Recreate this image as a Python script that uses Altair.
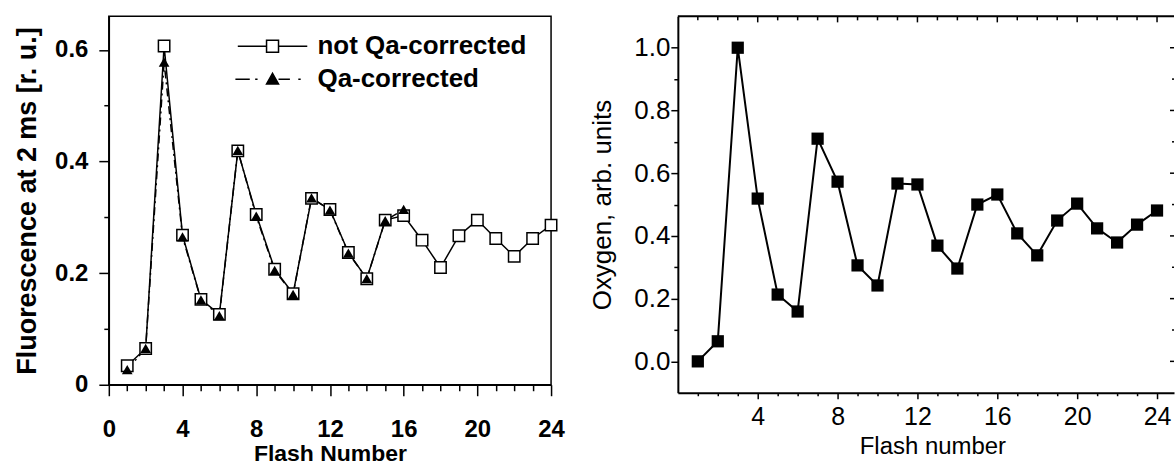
import altair as alt
import pandas as pd

# ---- data -------------------------------------------------------------
flash = list(range(1, 25))

# chlorophyll fluorescence 2 ms after each flash
fluor_not_qa = [0.034, 0.065, 0.607, 0.268, 0.153, 0.126, 0.419, 0.305,
                0.207, 0.163, 0.334, 0.314, 0.237, 0.190, 0.295, 0.303,
                0.259, 0.210, 0.267, 0.295, 0.262, 0.230, 0.262, 0.286]
fluor_qa = [0.027, 0.065, 0.578, 0.265, 0.152, 0.124, 0.420, 0.302,
            0.205, 0.162, 0.335, 0.313, 0.236, 0.190, 0.294, 0.314]

# flash-induced oxygen yield
oxygen = [0.000, 0.064, 1.000, 0.519, 0.213, 0.159, 0.710, 0.573,
          0.306, 0.242, 0.567, 0.564, 0.369, 0.296, 0.500, 0.532,
          0.408, 0.338, 0.449, 0.503, 0.424, 0.379, 0.436, 0.481]

series_names = ["not Qa-corrected", "Qa-corrected"]

# tick positions
left_x_ticks = list(range(0, 25))
left_y_ticks = [round(i * 0.1, 1) for i in range(0, 7)]
right_x_ticks = list(range(1, 25))
right_x_major = [t for t in right_x_ticks if t % 4 == 0]
right_x_minor = [t for t in right_x_ticks if t % 4 != 0]
right_y_ticks = [round(i * 0.1, 1) for i in range(0, 11)]
right_y_major = [v for v in right_y_ticks if round(v * 10) % 2 == 0]
right_y_minor = [v for v in right_y_ticks if round(v * 10) % 2 != 0]

# ---- layout constants ---------------------------------------------------
FONT = "Liberation Sans"
LEFT_W, LEFT_H = 443, 369
RIGHT_W, RIGHT_H = 497, 377

df_not = pd.DataFrame({"flash": flash, "value": fluor_not_qa})
df_qa = pd.DataFrame({"flash": flash[:len(fluor_qa)], "value": fluor_qa})
df_ox = pd.DataFrame({"flash": flash, "value": oxygen})
df_leg = pd.DataFrame({"series": series_names})

# ---- left panel: fluorescence -------------------------------------------
lx = alt.X(
    "flash:Q",
    scale=alt.Scale(domain=[0, 24], nice=False, zero=False),
    axis=alt.Axis(
        values=left_x_ticks,
        labelExpr="datum.value % 4 === 0 ? datum.label : ''",
        tickSize={"condition": {"test": "datum.value % 4 === 0", "value": 11}, "value": 6},
        title="Flash Number",
        titleFont=FONT, titleFontSize=23, titleFontWeight="bold", titleColor="black",
        titlePadding=1,
        labelFont=FONT, labelFontSize=24, labelFontWeight="bold", labelColor="black",
        labelPadding=22, labelFlush=False,
        domainColor="black", domainWidth=1.5, tickColor="black", tickWidth=1.5,
        grid=False,
    ),
)
ly = alt.Y(
    "value:Q",
    scale=alt.Scale(domain=[0, 0.66], nice=False, zero=False),
    axis=alt.Axis(
        values=left_y_ticks,
        format=".1~f",
        labelExpr="round(datum.value * 10) % 2 === 0 ? datum.label : ''",
        tickSize={"condition": {"test": "round(datum.value * 10) % 2 === 0", "value": 10}, "value": 5},
        title="Fluorescence at 2 ms [r. u.]",
        titleFont=FONT, titleFontSize=27, titleFontWeight="bold", titleColor="black",
        titlePadding=13,
        labelFont=FONT, labelFontSize=24, labelFontWeight="bold", labelColor="black",
        labelPadding=11, labelFlush=False,
        domainColor="black", domainWidth=1.5, tickColor="black", tickWidth=1.5,
        grid=False,
    ),
)

line_not = alt.Chart(df_not).mark_line(color="black", strokeWidth=1.5).encode(x=lx, y=ly)
line_qa = alt.Chart(df_qa).mark_line(
    color="black", strokeWidth=1.5, strokeDash=[8, 4, 2, 4]
).encode(x=lx, y=ly)
pts_not = alt.Chart(df_not).mark_point(
    shape="square", filled=True, fill="white", stroke="black",
    strokeWidth=1.5, size=130, opacity=1
).encode(x=lx, y=ly)
pts_qa = alt.Chart(df_qa).mark_point(
    shape="triangle-up", filled=True, color="black", size=115, opacity=1
).encode(x=lx, y=ly)

# legend glyphs: line segment with the marker in the middle
glyph_not = "M-5.8,0L-1,0M1,0L5.8,0M-1,-1L1,-1L1,1L-1,1Z"
glyph_qa = ("M-6.2,0L-3.8,0M-2.9,0L-2.5,0M1,0L2.9,0M4.3,0L4.7,0"
            "M0,-1L1,0.8L-1,0.8Z")
legend_def = alt.Legend(
    title=None, orient="none", legendX=151, legendY=17, padding=0,
    symbolSize=144, symbolStrokeWidth=1.5, symbolStrokeColor="black",
    symbolOpacity=1,
    labelFont=FONT, labelFontSize=26, labelFontWeight="bold", labelColor="black",
    labelOffset=32, labelLimit=0, rowPadding=7,
)
legend_layer = alt.Chart(df_leg).mark_point(
    filled=True, strokeWidth=1.5
).encode(
    shape=alt.Shape("series:N", sort=series_names,
                    scale=alt.Scale(domain=series_names, range=[glyph_not, glyph_qa]),
                    legend=legend_def),
    fill=alt.Fill("series:N", sort=series_names,
                  scale=alt.Scale(domain=series_names, range=["white", "black"]),
                  legend=legend_def),
    stroke=alt.Stroke("series:N", sort=series_names,
                      scale=alt.Scale(domain=series_names, range=["black", "black"]),
                      legend=legend_def),
    opacity=alt.value(0),
)

left = alt.layer(line_qa, line_not, pts_not, pts_qa, legend_layer).properties(
    width=LEFT_W, height=LEFT_H,
    view=alt.ViewBackground(stroke="black", strokeWidth=1.5, fill="white"),
)

# ---- right panel: oxygen ------------------------------------------------
rx = alt.X(
    "flash:Q",
    scale=alt.Scale(domain=[0, 24.85], nice=False, zero=False),
    axis=alt.Axis(
        values=right_x_ticks,
        labelExpr="datum.value % 4 === 0 ? datum.label : ''",
        tickSize={"condition": {"test": "datum.value % 4 === 0", "value": 6}, "value": 3},
        title="Flash number",
        titleFont=FONT, titleFontSize=24, titleFontWeight="normal", titleColor="black",
        titlePadding=5, titleX=255,
        labelFont=FONT, labelFontSize=25, labelColor="black",
        labelPadding=6, labelFlush=False,
        domainColor="black", domainWidth=2, tickColor="black", tickWidth=1.5,
        grid=False,
    ),
)
ry = alt.Y(
    "value:Q",
    scale=alt.Scale(domain=[-0.1, 1.1], nice=False, zero=False),
    axis=alt.Axis(
        values=right_y_ticks,
        format=".1f",
        labelExpr="round(datum.value * 10) % 2 === 0 ? datum.label : ''",
        tickSize={"condition": {"test": "round(datum.value * 10) % 2 === 0", "value": 7}, "value": 4},
        title="Oxygen, arb. units",
        titleFont=FONT, titleFontSize=26, titleFontWeight="normal", titleColor="black",
        titlePadding=18,
        labelFont=FONT, labelFontSize=26, labelColor="black",
        labelPadding=1, labelFlush=False,
        domainColor="black", domainWidth=2, tickColor="black", tickWidth=1.5,
        grid=False,
    ),
)

ox_line = alt.Chart(df_ox).mark_line(color="black", strokeWidth=2).encode(x=rx, y=ry)
ox_pts = alt.Chart(df_ox).mark_point(
    shape="square", filled=True, color="black", size=150, opacity=1
).encode(x=rx, y=ry)

# top frame edge with inward ticks
frame_top = alt.Chart(alt.Data(values=[{}])).mark_rule(color="black", strokeWidth=2).encode(
    x=alt.value(0), x2=alt.value(RIGHT_W), y=alt.value(0)
)
top_major = alt.Chart(pd.DataFrame({"flash": right_x_major})).mark_rule(
    color="black", strokeWidth=1.5
).encode(x=rx, y=alt.value(0), y2=alt.value(6))
top_minor = alt.Chart(pd.DataFrame({"flash": right_x_minor})).mark_rule(
    color="black", strokeWidth=1.5
).encode(x=rx, y=alt.value(0), y2=alt.value(4))
# inward ticks along the right edge
side_major = alt.Chart(pd.DataFrame({"value": right_y_major})).mark_rule(
    color="black", strokeWidth=1.5
).encode(y=ry, x=alt.value(RIGHT_W - 4), x2=alt.value(RIGHT_W))
side_minor = alt.Chart(pd.DataFrame({"value": right_y_minor})).mark_rule(
    color="black", strokeWidth=1.5
).encode(y=ry, x=alt.value(RIGHT_W - 2), x2=alt.value(RIGHT_W))

right = alt.layer(
    ox_line, ox_pts, frame_top, top_major, top_minor, side_major, side_minor
).properties(
    width=RIGHT_W, height=RIGHT_H,
    view=alt.ViewBackground(stroke="transparent", fill="white"),
)

chart = alt.hconcat(left, right, spacing=127, bounds="flush").properties(
    padding={"left": 12, "top": 14, "right": 0, "bottom": 0},
    background="white",
).configure_view(strokeWidth=1.5)

chart.save("out.html", embed_options={"renderer": "svg", "actions": False})
